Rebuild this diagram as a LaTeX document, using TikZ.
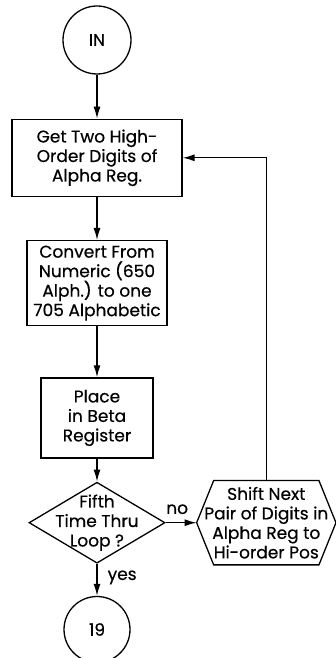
\documentclass[tikz,border=0pt]{standalone}
\usepackage{fontspec}
\setmainfont{Poppins}[FakeBold=0.5]
\usetikzlibrary{arrows.meta,positioning,shapes.geometric}

\begin{document}
\begin{tikzpicture}[x=1pt, y=1pt,
		font=\fontsize{17}{19.5}\selectfont,
		line width=1.3pt,
		>={Latex[length=12pt,width=7pt]},
		term/.style={draw, circle, inner sep=0pt},
		proc/.style={draw, rectangle, align=center, inner sep=0pt},
		decide/.style={draw, diamond, inner sep=0pt, minimum width=136pt, minimum height=81pt},
		prep/.style={rectangle, align=center, inner sep=0pt, minimum width=138pt, minimum height=83pt}]
		
		\useasboundingbox (-97,40) rectangle (238,-618);
		
		%in
		\node[term, minimum size=68pt] (in) at (0,0) {IN};
		%get
		\node[proc, below=44pt of in, minimum width=170pt, minimum height=77pt] (get) {Get Two High-\\Order Digits of\\Alpha Reg.};
		%conv
		\node[proc, below=43pt of get, minimum width=140pt, minimum height=85pt] (conv) {Convert From\\Numeric (650\\Alph.) to one\\705 Alphabetic};
		%place
		\node[proc, below=51pt of conv, minimum width=112pt, minimum height=80pt] (place) {Place\\in Beta\\Register};
		%fifth
		\node[decide, below=23pt of place, label={[align=center]center:Fifth\\Time Thru\\Loop ?}] (fifth) {};
		%shift
		\node[prep, right=31pt of fifth] (shift) {Shift Next\\Pair of Digits in\\Alpha Reg to\\Hi-order Pos};
		\draw (shift.west) -- ([xshift=17pt]shift.north west) -- ([xshift=-17pt]shift.north east) -- (shift.east)
			-- ([xshift=-17pt]shift.south east) -- ([xshift=17pt]shift.south west) -- cycle;
		%nineteen
		\node[term, below=32pt of fifth, minimum size=66pt] (nineteen) {19};
		
		% in
		\draw[->] (in) edge (get);
		
		% get
		\draw[->] (get) edge (conv);
		
		% conv
		\draw[->] (conv) edge (place);
		
		% place
		\draw[->] (place) edge (fifth);
		
		% fifth
		\draw[->] (fifth) edge node[anchor=south west, pos=0, inner sep=0pt, yshift=8pt] {no} (shift);
		\draw[->] (fifth) edge node[anchor=north west, pos=0, inner sep=0pt, xshift=10pt, yshift=-6pt] {yes} (nineteen);
		
		% shift
		\draw[->] (shift.north) |- (get.east);
		
\end{tikzpicture}
\end{document}
